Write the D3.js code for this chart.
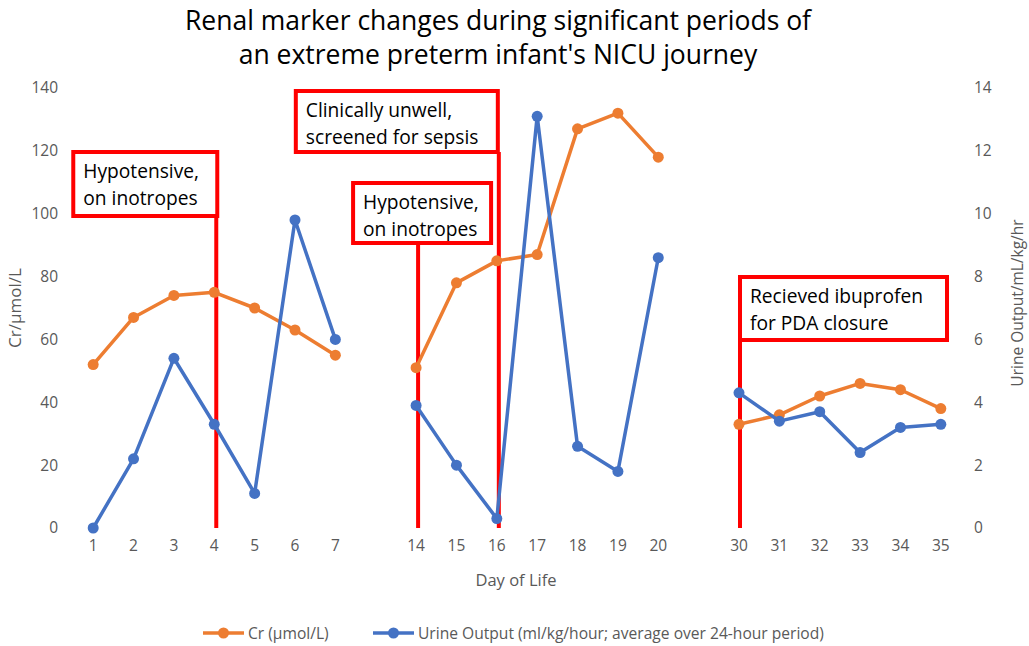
<!DOCTYPE html>
<html><head><meta charset="utf-8">
<script src="https://cdn.jsdelivr.net/npm/d3@7"></script>
<style>body{margin:0;background:#fff}svg{display:block}text{font-family:"Open Sans",sans-serif}</style>
</head><body>
<svg id="c" width="1029" height="646"></svg>
<script>
// Data
const days = ["1","2","3","4","5","6","7","","14","15","16","17","18","19","20","","30","31","32","33","34","35"];
const crValues = [52,67,74,75,70,63,55,null,51,78,85,87,127,132,118,null,33,36,42,46,44,38];
const urineValues = [0,2.2,5.4,3.3,1.1,9.8,6.0,null,3.9,2.0,0.3,13.1,2.6,1.8,8.6,null,4.3,3.4,3.7,2.4,3.2,3.3];
const leftTicks = [0,20,40,60,80,100,120,140];
const rightTicks = [0,2,4,6,8,10,12,14];
const annotationDays = ["4","16","14","30"];
const annotationTexts = [["Hypotensive,","on inotropes"],["Clinically unwell,","screened for sepsis"],["Hypotensive,","on inotropes"],["Recieved ibuprofen","for PDA closure"]];
const titleLines = ["Renal marker changes during significant periods of","an extreme preterm infant's NICU journey"];

const svg = d3.select("#c");
const idx = days.map((d,i)=>i);
const x = d3.scaleBand().domain(idx).range([73,961]).padding(0);
const cx = i => x(i) + x.bandwidth()/2;
const yL = d3.scaleLinear().domain([0,140]).range([528,88]);
const yR = d3.scaleLinear().domain([0,14]).range([528,88]);

// Title
svg.append("g").selectAll("text").data(titleLines).join("text")
  .attr("x",498).attr("y",(d,i)=>30+i*34).attr("text-anchor","middle")
  .attr("font-size",26.5).attr("fill","#000").text(d=>d);

// Left axis
const gL = svg.append("g").attr("transform","translate(58,0)")
  .call(d3.axisLeft(yL).tickValues(leftTicks).tickSize(0).tickPadding(0));
gL.select(".domain").remove();
gL.selectAll("text").attr("font-size",15.5).attr("fill","#595959").attr("font-family","Open Sans");

// Right axis
const gR = svg.append("g").attr("transform","translate(974,0)")
  .call(d3.axisRight(yR).tickValues(rightTicks).tickSize(0).tickPadding(0));
gR.select(".domain").remove();
gR.selectAll("text").attr("font-size",15.5).attr("fill","#595959").attr("font-family","Open Sans");

// Bottom axis
const gB = svg.append("g").attr("transform","translate(0,540)")
  .call(d3.axisBottom(x).tickFormat(i=>days[i]).tickSize(0).tickPadding(0));
gB.select(".domain").remove();
gB.selectAll("text").attr("font-size",15.5).attr("fill","#595959").attr("font-family","Open Sans");

// Axis titles
svg.append("text").attr("x",516).attr("y",586).attr("text-anchor","middle")
  .attr("font-size",16.5).attr("fill","#595959").text("Day of Life");
svg.append("text").attr("transform","translate(21,308) rotate(-90)").attr("text-anchor","middle")
  .attr("font-size",17).attr("fill","#595959").text("Cr/µmol/L");
svg.append("text").attr("transform","translate(1023,303) rotate(-90)").attr("text-anchor","middle")
  .attr("font-size",15.5).attr("fill","#595959").text("Urine Output/mL/kg/hr");

// Annotations (vertical red lines + boxes)
const boxes = [
  {dx:2, l:-143,t:152,w:144,h:64},
  {dx:2, l:-203,t:91,w:202,h:61},
  {dx:2, l:-65,t:183,w:138,h:60},
  {dx:1, l:0,t:277,w:207,h:63}
];
const ga = svg.append("g");
annotationDays.forEach((d,k)=>{
  const b = boxes[k];
  const px = cx(days.indexOf(d)) + b.dx;
  const bx = px + b.l;
  ga.append("line").attr("x1",px).attr("x2",px).attr("y1",b.t+b.h).attr("y2",yL(0))
    .attr("stroke","#FF0000").attr("stroke-width",4);
  ga.append("rect").attr("x",bx).attr("y",b.t).attr("width",b.w).attr("height",b.h)
    .attr("fill","#fff").attr("stroke","#FF0000").attr("stroke-width",4);
  ga.append("g").selectAll("text").data(annotationTexts[k]).join("text")
    .attr("x",bx+10).attr("y",(t,i)=>b.t+26+i*27)
    .attr("font-size",19.2).attr("fill","#000").text(t=>t);
});

// Lines
const series = [
  {vals:crValues, y:yL, color:"#ED7D31"},
  {vals:urineValues, y:yR, color:"#4472C4"}
];
series.forEach(s=>{
  const line = d3.line().defined(d=>d.v!=null).x(d=>cx(d.i)).y(d=>s.y(d.v));
  const pts = s.vals.map((v,i)=>({i,v}));
  svg.append("path").datum(pts).attr("d",line).attr("fill","none")
    .attr("stroke",s.color).attr("stroke-width",3.5).attr("stroke-linejoin","round");
  svg.append("g").selectAll("circle").data(pts.filter(p=>p.v!=null)).join("circle")
    .attr("cx",p=>cx(p.i)).attr("cy",p=>s.y(p.v)).attr("r",5.5).attr("fill",s.color);
});

// Legend
const legend = [
  {label:"Cr (µmol/L)", color:"#ED7D31", x:203},
  {label:"Urine Output (ml/kg/hour; average over 24-hour period)", color:"#4472C4", x:373}
];
const gl = svg.append("g");
legend.forEach(l=>{
  gl.append("line").attr("x1",l.x).attr("x2",l.x+41).attr("y1",633).attr("y2",633)
    .attr("stroke",l.color).attr("stroke-width",3.5);
  gl.append("circle").attr("cx",l.x+20.5).attr("cy",633).attr("r",5.5).attr("fill",l.color);
  gl.append("text").attr("x",l.x+45).attr("y",638.5).attr("font-size",15.6).attr("fill","#595959").text(l.label);
});
</script>
</body></html>
